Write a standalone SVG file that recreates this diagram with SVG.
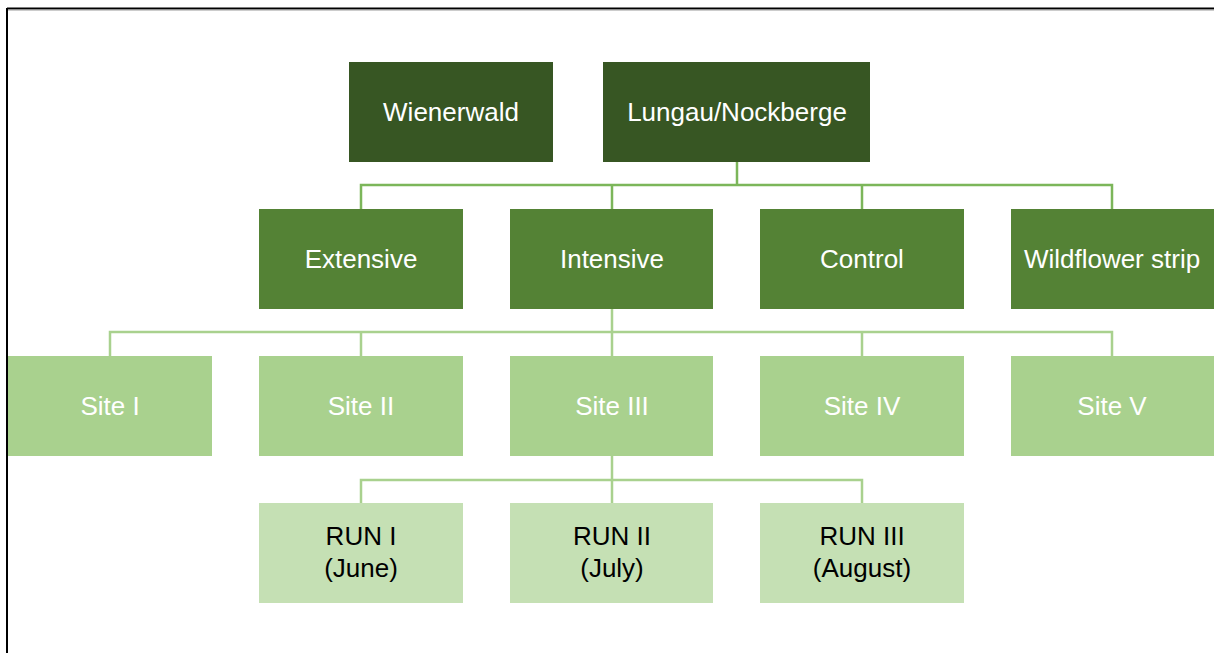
<svg xmlns="http://www.w3.org/2000/svg" width="1214" height="653" viewBox="0 0 1214 653">
<style>
.t{font-family:"Liberation Sans",Arial,sans-serif;font-size:26px;text-anchor:middle;dominant-baseline:central}
.w{fill:#ffffff}
.k{fill:#000000}
.l1{fill:#375623}
.l2{fill:#548235}
.l3{fill:#A9D18E}
.l4{fill:#C5E0B4}
.c{fill:none;stroke-width:2.5}
</style>
<rect width="1214" height="653" fill="#ffffff"/>
<g id="frame">
<line x1="7" y1="8.5" x2="1214" y2="8.5" stroke="#000" stroke-width="2"/>
<line x1="7" y1="10" x2="1214" y2="10" stroke="#9a9a9a" stroke-width="1"/>
<line x1="7" y1="8" x2="7" y2="653" stroke="#000" stroke-width="2"/>
</g>
<g id="connectors">
<path class="c" stroke="#7CB65A" d="M737 162V185M361 209V185H1112V209M612 185V209M862 185V209"/>
<path class="c" stroke="#A9D18E" d="M612 309V332M110 356V332H1112V356M361 332V356M612 332V356M862 332V356"/>
<path class="c" stroke="#A9D18E" d="M612 456V480M361 503V480H862V503M612 480V503"/>
</g>
<g id="wienerwald"><rect class="l1" x="349" y="62" width="204" height="100"/><text class="t w" x="451" y="112">Wienerwald</text></g>
<g id="lungau"><rect class="l1" x="603" y="62" width="267" height="100"/><text class="t w" x="737" y="112">Lungau/Nockberge</text></g>
<g id="extensive"><rect class="l2" x="259" y="209" width="204" height="100"/><text class="t w" x="361" y="259">Extensive</text></g>
<g id="intensive"><rect class="l2" x="510" y="209" width="203" height="100"/><text class="t w" x="612" y="259">Intensive</text></g>
<g id="control"><rect class="l2" x="760" y="209" width="204" height="100"/><text class="t w" x="862" y="259">Control</text></g>
<g id="wildflower"><rect class="l2" x="1011" y="209" width="203" height="100"/><text class="t w" x="1112" y="259">Wildflower strip</text></g>
<g id="site1"><rect class="l3" x="8" y="356" width="204" height="100"/><text class="t w" x="110" y="406">Site I</text></g>
<g id="site2"><rect class="l3" x="259" y="356" width="204" height="100"/><text class="t w" x="361" y="406">Site II</text></g>
<g id="site3"><rect class="l3" x="510" y="356" width="203" height="100"/><text class="t w" x="612" y="406">Site III</text></g>
<g id="site4"><rect class="l3" x="760" y="356" width="204" height="100"/><text class="t w" x="862" y="406">Site IV</text></g>
<g id="site5"><rect class="l3" x="1011" y="356" width="203" height="100"/><text class="t w" x="1112" y="406">Site V</text></g>
<g id="run1"><rect class="l4" x="259" y="503" width="204" height="100"/><text class="t k" x="361" y="536">RUN I</text><text class="t k" x="361" y="568">(June)</text></g>
<g id="run2"><rect class="l4" x="510" y="503" width="203" height="100"/><text class="t k" x="612" y="536">RUN II</text><text class="t k" x="612" y="568">(July)</text></g>
<g id="run3"><rect class="l4" x="760" y="503" width="204" height="100"/><text class="t k" x="862" y="536">RUN III</text><text class="t k" x="862" y="568">(August)</text></g>
</svg>
